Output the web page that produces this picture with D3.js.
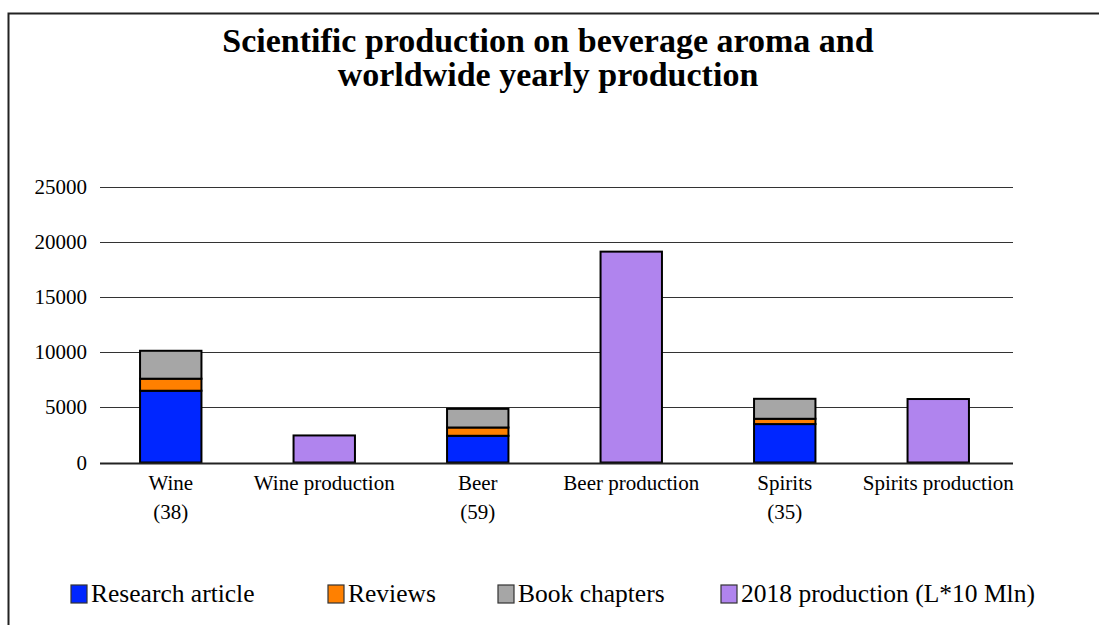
<!DOCTYPE html>
<html>
<head>
<meta charset="utf-8">
<script src="https://cdn.jsdelivr.net/npm/d3@7"></script>
<style>
  html, body { margin: 0; padding: 0; background: #fff; }
  svg { display: block; font-family: "Liberation Serif", "Times New Roman", serif; }
</style>
</head>
<body>
<svg id="chart" width="1099" height="625"></svg>
<script>
// Categories on the x axis (label lines)
const categories = ["Wine", "Wine production", "Beer", "Beer production", "Spirits", "Spirits production"];
const categoryLines = [["Wine", "(38)"], ["Wine production"], ["Beer", "(59)"], ["Beer production"], ["Spirits", "(35)"], ["Spirits production"]];

// Publication counts, stacked (null where not applicable)
const researchArticle = [6500, null, 2420, null, 3480, null];
const reviews         = [1090, null, 750,  null, 480,  null];
const bookChapters    = [2530, null, 1690, null, 1810, null];
// 2018 production in L*10 Mln
const production2018  = [null, 2450, null, 19100, null, 5750];

const yTicks = [0, 5000, 10000, 15000, 20000, 25000];

const seriesNames  = ["Research article", "Reviews", "Book chapters", "2018 production (L*10 Mln)"];
const seriesColors = ["#0026ff", "#ff8000", "#a6a6a6", "#b084ee"];

const svg = d3.select("#chart");

// outer frame
svg.append("rect")
  .attr("x", 8.5).attr("y", 13.5)
  .attr("width", 1200).attr("height", 800)
  .attr("fill", "none").attr("stroke", "#222").attr("stroke-width", 2);

// title
const title = svg.append("text")
  .attr("text-anchor", "middle")
  .attr("font-weight", "bold")
  .attr("font-size", 34)
  .attr("fill", "#000");
title.append("tspan").attr("x", 548).attr("y", 52).text("Scientific production on beverage aroma and");
title.append("tspan").attr("x", 548).attr("y", 86).text("worldwide yearly production");

const y = d3.scaleLinear().domain([0, 25000]).range([462.5, 186.5]);
const x = d3.scaleBand().domain(categories).range([94, 1015]).paddingInner(0.6).paddingOuter(0.3);

const gridX0 = 100, gridX1 = 1013;

// gridlines
svg.append("g").selectAll("line").data(yTicks.filter(d => d > 0)).join("line")
  .attr("x1", gridX0).attr("x2", gridX1)
  .attr("y1", d => Math.round(y(d)) + 0.5).attr("y2", d => Math.round(y(d)) + 0.5)
  .attr("stroke", "#333").attr("stroke-width", 1.2);

// y tick labels
svg.append("g").selectAll("text").data(yTicks).join("text")
  .attr("x", 87).attr("y", d => y(d) + 7)
  .attr("text-anchor", "end")
  .attr("font-size", 21)
  .text(d => d);

// stacked publication bars
const stackRows = categories.map((c, i) => ({
  cat: c,
  research: researchArticle[i] || 0,
  reviews: reviews[i] || 0,
  book: bookChapters[i] || 0,
  has: researchArticle[i] != null
}));
const stack = d3.stack().keys(["research", "reviews", "book"]);
const stacked = stack(stackRows);

const barG = svg.append("g");
stacked.forEach((layer, li) => {
  barG.append("g").selectAll("rect")
    .data(layer.filter(d => d.data.has))
    .join("rect")
    .attr("x", d => x(d.data.cat))
    .attr("width", x.bandwidth())
    .attr("y", d => y(d[1]))
    .attr("height", d => y(d[0]) - y(d[1]))
    .attr("fill", seriesColors[li])
    .attr("stroke", "#000").attr("stroke-width", 2);
});

// production bars
barG.append("g").selectAll("rect")
  .data(categories.map((c, i) => ({ cat: c, v: production2018[i] })).filter(d => d.v != null))
  .join("rect")
  .attr("x", d => x(d.cat))
  .attr("width", x.bandwidth())
  .attr("y", d => y(d.v))
  .attr("height", d => y(0) - y(d.v))
  .attr("fill", seriesColors[3])
  .attr("stroke", "#000").attr("stroke-width", 2);

// baseline
svg.append("line")
  .attr("x1", gridX0).attr("x2", gridX1)
  .attr("y1", Math.round(y(0)) + 0.5).attr("y2", Math.round(y(0)) + 0.5)
  .attr("stroke", "#222").attr("stroke-width", 2);

// category labels
const catG = svg.append("g");
categories.forEach((c, i) => {
  const t = catG.append("text")
    .attr("text-anchor", "middle")
    .attr("font-size", 21);
  categoryLines[i].forEach((line, j) => {
    t.append("tspan")
      .attr("x", x(c) + x.bandwidth() / 2)
      .attr("y", 490 + j * 29)
      .text(line);
  });
});

// legend
const legendX = [71, 328, 498, 721];
const legend = svg.append("g");
seriesNames.forEach((name, i) => {
  legend.append("rect")
    .attr("x", legendX[i]).attr("y", 585)
    .attr("width", 16).attr("height", 18)
    .attr("fill", seriesColors[i])
    .attr("stroke", "#333").attr("stroke-width", 1.2);
  legend.append("text")
    .attr("x", legendX[i] + 20).attr("y", 602)
    .attr("font-size", 25.5)
    .text(name);
});
</script>
</body>
</html>
